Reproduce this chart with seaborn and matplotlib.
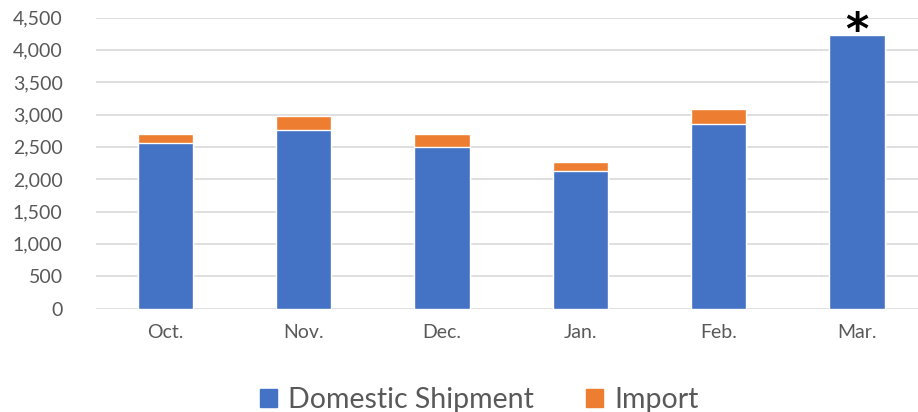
import matplotlib
matplotlib.use("Agg")
import matplotlib.pyplot as plt
import seaborn as sns
import pandas as pd
from matplotlib.patches import Patch
from matplotlib.ticker import FuncFormatter

months = ["Oct.", "Nov.", "Dec.", "Jan.", "Feb.", "Mar."]
domestic = [2562, 2766, 2505, 2129, 2846, 4226]
imports = [141, 212, 198, 130, 242, 0]
series_names = ["Domestic Shipment", "Import"]
note_text = "*"

blue = "#4472C4"
orange = "#ED7D31"
grey = "#595959"

sns.set_theme(style="white")
plt.rcParams["font.family"] = ["Lato", "DejaVu Sans"]

df = pd.DataFrame({"month": months, "domestic": domestic, "imports": imports})
df["total"] = df["domestic"] + df["imports"]

fig = plt.figure(figsize=(9.18, 4.12), dpi=100)
ax = fig.add_axes([96 / 918, 0.2512, 830 / 918, 0.7063])

# totals first (orange), domestic on top (blue) -> stacked look
sns.barplot(data=df, x="month", y="total", color=orange, width=0.4, saturation=1, ax=ax, zorder=3)
sns.barplot(data=df, x="month", y="domestic", color=blue, width=0.4, saturation=1, ax=ax, zorder=4)

ax.set_ylim(0, 4500)
ax.set_yticks(range(0, 4501, 500))
ax.yaxis.set_major_formatter(FuncFormatter(lambda v, p: f"{int(v):,}"))
ax.grid(axis="y", color="#d9d9d9", linewidth=1.2, zorder=0)
ax.set_axisbelow(True)
for s in ax.spines.values():
    s.set_visible(False)
ax.set_xlabel("")
ax.set_ylabel("")
ax.tick_params(axis="both", length=0, labelsize=14, colors=grey)
ax.tick_params(axis="y", pad=24)
ax.tick_params(axis="x", pad=11)

ax.text(5, df["total"].iloc[5] + 60, note_text, ha="center", va="center",
        fontsize=32, fontweight="heavy", color="black", clip_on=False,
        family=["DejaVu Sans"])

handles = [Patch(color=blue, label=series_names[0]), Patch(color=orange, label=series_names[1])]
fig.legend(handles=handles, loc="center", bbox_to_anchor=(0.522, 0.03), ncol=2, frameon=False,
           fontsize=20.5, labelcolor=grey, handlelength=0.6, handleheight=0.6, columnspacing=1.8,
           handletextpad=0.4)

fig.savefig("out.png", dpi=100)
